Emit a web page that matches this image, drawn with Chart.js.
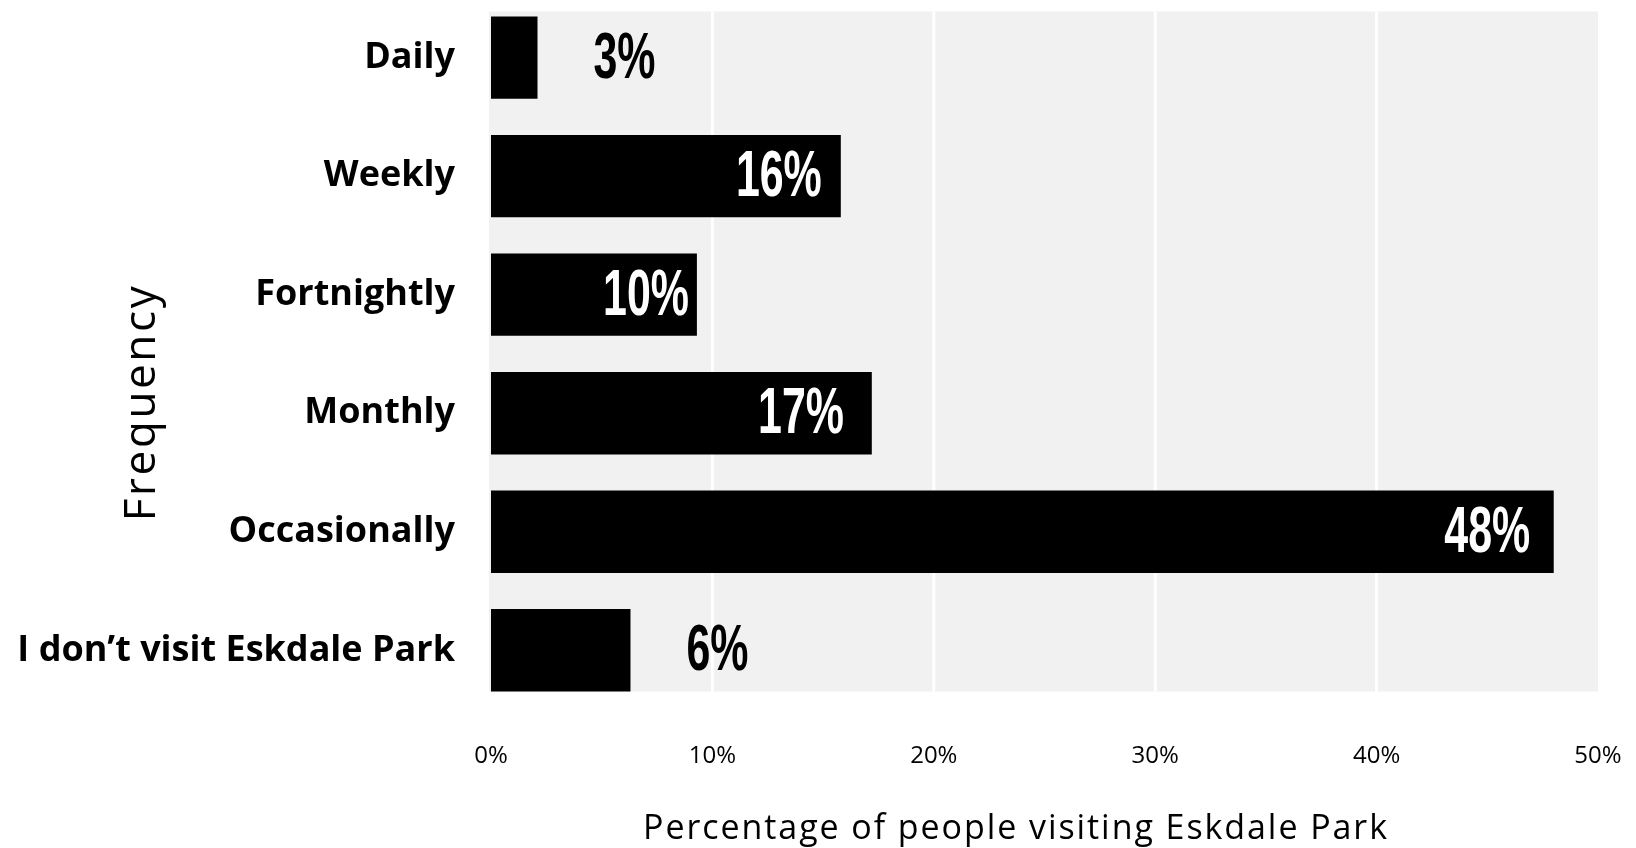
<!DOCTYPE html>
<html><head><meta charset="utf-8">
<script src="https://cdn.jsdelivr.net/npm/chart.js@4.4.1/dist/chart.umd.min.js"></script>
<style>html,body{margin:0;padding:0;background:#fff;overflow:hidden}</style>
</head><body>
<canvas id="c" width="1636" height="848"></canvas>
<script>
// ---- data ----
const categories = ['Daily', 'Weekly', 'Fortnightly', 'Monthly', 'Occasionally', 'I don\u2019t visit Eskdale Park'];
const percentVisiting = [2.1, 15.8, 9.3, 17.2, 48.0, 6.3];
const valueLabels = ['3%', '16%', '10%', '17%', '48%', '6%'];
const xTickValues = [0, 10, 20, 30, 40, 50];
const xTitle = 'Percentage of people visiting Eskdale Park';
const yTitle = 'Frequency';

const panelPlugin = {
  id: 'panel',
  beforeDatasetsDraw(chart) {
    const {ctx, scales: {x, y}} = chart;
    const step = y.getPixelForValue(1) - y.getPixelForValue(0);
    const top = y.getPixelForValue(0) - step * 0.389;
    const bottom = y.getPixelForValue(categories.length - 1) + step * 0.348;
    const left = x.getPixelForValue(xTickValues[0]) - 2;
    const right = x.getPixelForValue(xTickValues[xTickValues.length - 1]);
    ctx.save();
    ctx.fillStyle = '#f1f1f1';
    ctx.fillRect(left, top, right - left, bottom - top);
    ctx.strokeStyle = '#ffffff';
    ctx.lineWidth = 3;
    xTickValues.slice(1, -1).forEach(v => {
      const px = x.getPixelForValue(v);
      ctx.beginPath();
      ctx.moveTo(px, top);
      ctx.lineTo(px, bottom);
      ctx.stroke();
    });
    ctx.restore();
  }
};

const labelPlugin = {
  id: 'valueLabels',
  afterDatasetsDraw(chart) {
    const {ctx} = chart;
    const xs = chart.scales.x;
    const meta = chart.getDatasetMeta(0);
    const k = 0.66;
    meta.data.forEach((el, i) => {
      const t = valueLabels[i];
      const inside = percentVisiting[i] >= 7;
      ctx.save();
      ctx.font = 'bold 65px "Liberation Sans", Arial, sans-serif';
      ctx.textBaseline = 'middle';
      ctx.textAlign = 'left';
      ctx.fillStyle = inside ? '#ffffff' : '#000000';
      const w = ctx.measureText(t).width * k;
      const xl = inside ? xs.getPixelForValue(parseFloat(t) - 3) - w / 2 : el.x + 56;
      ctx.translate(xl, el.y + 2);
      ctx.scale(k, 1);
      ctx.fillText(t, 0, 0);
      ctx.restore();
    });
  }
};

function spacedText(ctx, text, target) {
  const natural = ctx.measureText(text).width;
  const ls = Math.max(0, (target - natural) / (text.length - 1));
  if ('letterSpacing' in ctx) ctx.letterSpacing = ls.toFixed(2) + 'px';
  return ctx.measureText(text).width;
}

const titlesPlugin = {
  id: 'axisTitles',
  afterDraw(chart) {
    const {ctx} = chart;
    ctx.save();
    ctx.fillStyle = '#000000';
    ctx.textBaseline = 'alphabetic';
    ctx.textAlign = 'left';
    // x title
    ctx.font = '400 34px "Open Sans", sans-serif';
    const wx = spacedText(ctx, xTitle, 744);
    ctx.fillText(xTitle, 1016 - wx / 2, 839);
    // y title (rotated)
    ctx.font = '400 44px "Open Sans", sans-serif';
    if ('letterSpacing' in ctx) ctx.letterSpacing = '0px';
    const wy = spacedText(ctx, yTitle, 235);
    ctx.translate(155, 402.5 + wy / 2);
    ctx.rotate(-Math.PI / 2);
    ctx.fillText(yTitle, 0, 0);
    ctx.restore();
  }
};

new Chart(document.getElementById('c'), {
  type: 'bar',
  data: {
    labels: categories,
    datasets: [{
      data: percentVisiting,
      backgroundColor: '#000000',
      borderWidth: 0,
      barPercentage: 0.695,
      categoryPercentage: 1,
      clip: false
    }]
  },
  options: {
    indexAxis: 'y',
    responsive: false,
    animation: false,
    devicePixelRatio: 1,
    layout: {padding: {top: 55.3, bottom: 0, left: 0, right: 38}},
    plugins: {legend: {display: false}, tooltip: {enabled: false}},
    scales: {
      x: {
        type: 'linear',
        position: 'bottom',
        min: xTickValues[0],
        max: xTickValues[xTickValues.length - 1],
        grid: {display: false, drawTicks: true, tickLength: 88},
        border: {display: false},
        afterBuildTicks: s => { s.ticks = xTickValues.map(v => ({value: v})); },
        ticks: {
          callback: v => v + '%',
          font: {family: '"Open Sans"', size: 24},
          color: '#000000',
          padding: 3,
          maxRotation: 0
        },
        title: {display: false},
        afterFit: s => { s.height = 197.7; }
      },
      y: {
        type: 'category',
        offset: false,
        grid: {display: false, drawTicks: false},
        border: {display: false},
        ticks: {
          font: {family: '"Open Sans"', size: 36, weight: 700},
          color: '#000000',
          padding: 36
        },
        title: {display: false},
        afterFit: s => { s.width = 491; }
      }
    }
  },
  plugins: [panelPlugin, labelPlugin, titlesPlugin]
});
</script>
</body></html>
